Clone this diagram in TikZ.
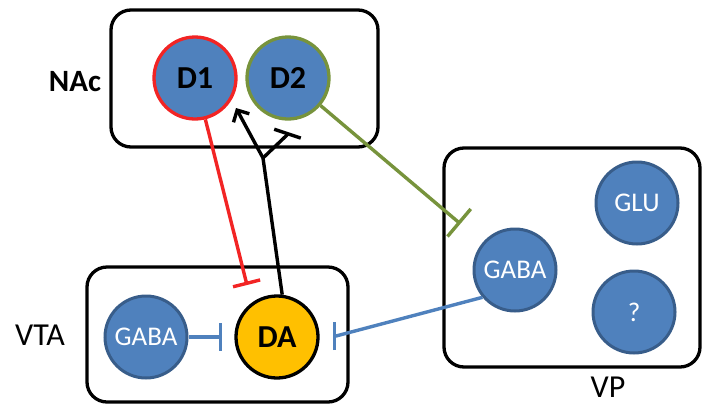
\documentclass[tikz,border=0pt]{standalone}
\usepackage{fontspec}
\setmainfont{Carlito}
\usetikzlibrary{arrows.meta,calc}
\definecolor{cellblue}{HTML}{4F81BD}
\definecolor{cellrim}{HTML}{385D8A}
\definecolor{dred}{HTML}{F22424}
\definecolor{dgreen}{HTML}{77933C}
\definecolor{dayellow}{HTML}{FFC000}

\begin{document}
\begin{tikzpicture}[
  x=1pt,y=-1pt,
  cell/.style={circle,draw=cellrim,fill=cellblue,line width=3pt,minimum size=82pt,inner sep=0pt,text=white,font=\fontsize{27}{32}\selectfont},
  dcell/.style={circle,fill=cellblue,line width=3.3pt,minimum size=82pt,inner sep=0pt,font=\bfseries\fontsize{32}{38}\selectfont},
  region/.style={draw,line width=3.3pt,rounded corners=20pt},
  area/.style={inner sep=0pt,font=\fontsize{32}{38}\selectfont},
  inh/.style={line width=3.4pt,-{Bar[width=28pt]}},
  exc/.style={line width=3.4pt,-{Straight Barb[length=9pt,width=18pt]}}
]
\useasboundingbox (0,0) rectangle (703,405);
% regions
\draw[region] (111,10) rectangle (378,147);
\draw[region] (87,267) rectangle (348,402);
\draw[region] (444,148) rectangle (700,367);
\node[area,font=\bfseries\fontsize{31}{36}\selectfont] (naclbl) at (75,82) {NAc};
\node[area] (vtalbl) at (40,335) {VTA};
\node[area] (vplbl) at (608,387) {VP};
% cells
\node[dcell,draw=dred] (d1) at (195,78) {D1};
\node[dcell,draw=dgreen] (d2) at (288,78) {D2};
\node[cell] (tgaba) at (146,337) {GABA};
\node[dcell,draw=black,fill=dayellow] (da) at (277,337) {DA};
\node[cell] (vgaba) at (515,270) {GABA};
\node[cell] (glu) at (637,203) {GLU};
\node[cell] (unk) at (634,312) {?};
% ends
\coordinate (fork) at (263,158);
\coordinate (d1tip) at (236,108);
\coordinate (d2bar) at (288,132);
\coordinate (d1bar) at (247,285);
\coordinate (dabar) at (333,336);
% connections
\draw[inh,dred] (d1) -- (d1bar);
\draw[inh,dgreen,-{Bar[width=36pt]}] (d2) -- (vgaba) [shorten >=29pt];
\draw[inh,cellblue] (tgaba) -- (da) [shorten >=12pt];
\draw[inh,cellblue] (vgaba.220) -- ($(dabar)+(3,0)$) -- (dabar);
\draw[exc] (da.83) -- (fork) -- (d1tip);
\draw[inh] (fork) -- ($(d2bar)+(-1,3)$) -- (d2bar);
\end{tikzpicture}
\end{document}
